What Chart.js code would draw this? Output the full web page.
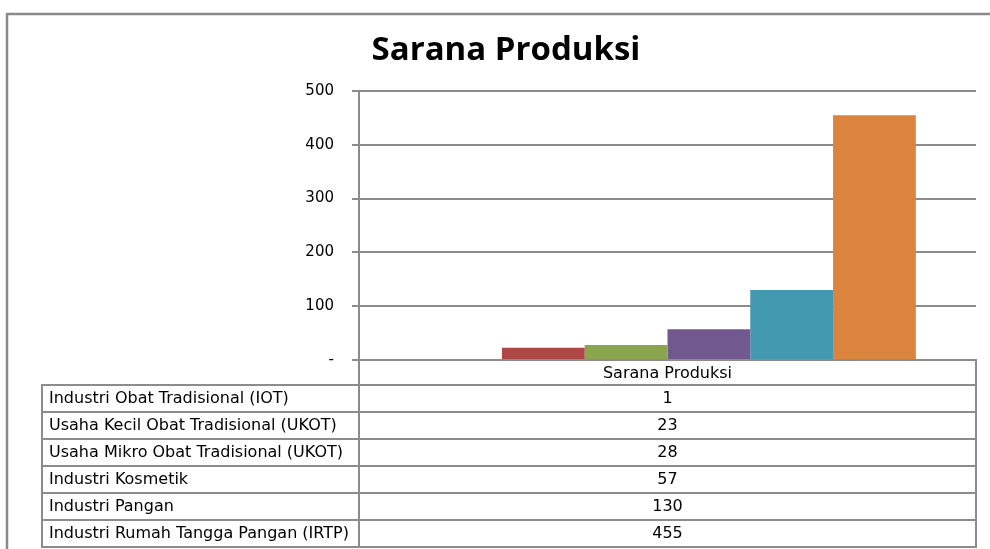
<!DOCTYPE html>
<html>
<head>
<meta charset="utf-8">
<script src="https://cdn.jsdelivr.net/npm/chart.js@4"></script>
<style>
    html, body { margin: 0; padding: 0; background: #fff; }
    #wrap { width: 990px; height: 549px; }
</style>
</head>
<body>
<div id="wrap"><canvas id="chartCanvas" width="990" height="549"></canvas></div>
<script>
// data
const chartTitle = 'Sarana Produksi';
const categories = ['Sarana Produksi'];
const seriesNames = [
    'Industri Obat Tradisional (IOT)',
    'Usaha Kecil Obat Tradisional (UKOT)',
    'Usaha Mikro Obat Tradisional (UKOT)',
    'Industri Kosmetik',
    'Industri Pangan',
    'Industri Rumah Tangga Pangan (IRTP)'
];
const seriesValues = [1, 23, 28, 57, 130, 455];
const seriesColors = ['#4672a7', '#ac4746', '#89a54e', '#71588f', '#4299b0', '#db843d'];

const lineGrey = '#8c8c8c';
const tableFont = '16px "DejaVu Sans", Verdana, sans-serif';

// frame round the chart + title (excel look)
const framePlugin = {
    id: 'frame',
    beforeDraw(chart) {
        const ctx = chart.ctx;
        ctx.save();
        ctx.strokeStyle = '#8a8a8a';
        ctx.lineWidth = 2.5;
        ctx.beginPath();
        ctx.moveTo(7, chart.height);
        ctx.lineTo(7, 14);
        ctx.lineTo(chart.width, 14);
        ctx.stroke();

        ctx.fillStyle = '#000';
        ctx.font = 'bold 33px "Open Sans", sans-serif';
        ctx.textAlign = 'center';
        ctx.textBaseline = 'alphabetic';
        ctx.fillText(chartTitle, 506, 60);
        ctx.restore();
    }
};

// data table under the plot area
const dataTablePlugin = {
    id: 'dataTable',
    afterDraw(chart) {
        const ctx = chart.ctx;
        const area = chart.chartArea;
        const top = area.bottom;
        const headH = 25;
        const rowH = 27;
        const labelLeft = 42;
        const midX = (area.left + area.right) / 2;

        ctx.save();
        ctx.strokeStyle = lineGrey;
        ctx.lineWidth = 2;

        // header cell
        ctx.strokeRect(area.left, top, area.right - area.left, headH);

        // rows
        seriesNames.forEach((name, i) => {
            const y = top + headH + i * rowH;
            ctx.strokeRect(labelLeft, y, area.right - labelLeft, rowH);
            ctx.beginPath();
            ctx.moveTo(area.left, y);
            ctx.lineTo(area.left, y + rowH);
            ctx.stroke();
        });

        ctx.fillStyle = '#000';
        ctx.font = tableFont;
        ctx.textBaseline = 'middle';
        ctx.textAlign = 'center';
        ctx.fillText(categories[0], midX, top + headH / 2 + 1);

        seriesNames.forEach((name, i) => {
            const y = top + headH + i * rowH + rowH / 2;
            ctx.textAlign = 'left';
            ctx.fillText(name, labelLeft + 7, y);
            ctx.textAlign = 'center';
            ctx.fillText(String(seriesValues[i]), midX, y);
        });
        ctx.restore();
    }
};

const chartCanvas = document.getElementById('chartCanvas');
const salesChart = new Chart(chartCanvas, {
    type: 'bar',
    data: {
        labels: categories,
        datasets: seriesNames.map((name, i) => ({
            label: name,
            data: [seriesValues[i]],
            backgroundColor: seriesColors[i],
            borderWidth: 0,
            barPercentage: 1,
            categoryPercentage: 0.805
        }))
    },
    options: {
        responsive: false,
        animation: false,
        layout: {
            padding: { left: 0, right: 14, top: 91, bottom: 189 }
        },
        plugins: {
            legend: { display: false },
            tooltip: { enabled: false },
            title: { display: false }
        },
        scales: {
            x: {
                display: false
            },
            y: {
                min: 0,
                max: 500,
                afterFit: function(scale) {
                    scale.width = 359;
                },
                ticks: {
                    stepSize: 100,
                    padding: 18,
                    color: '#000',
                    font: { family: '"DejaVu Sans", Verdana, sans-serif', size: 15 },
                    callback: function(value) {
                        return value === 0 ? '-' : value;
                    }
                },
                grid: {
                    color: lineGrey,
                    lineWidth: 2,
                    tickLength: 7,
                    drawTicks: true
                },
                border: {
                    color: lineGrey,
                    width: 2
                }
            }
        }
    },
    plugins: [framePlugin, dataTablePlugin]
});
</script>
</body>
</html>
